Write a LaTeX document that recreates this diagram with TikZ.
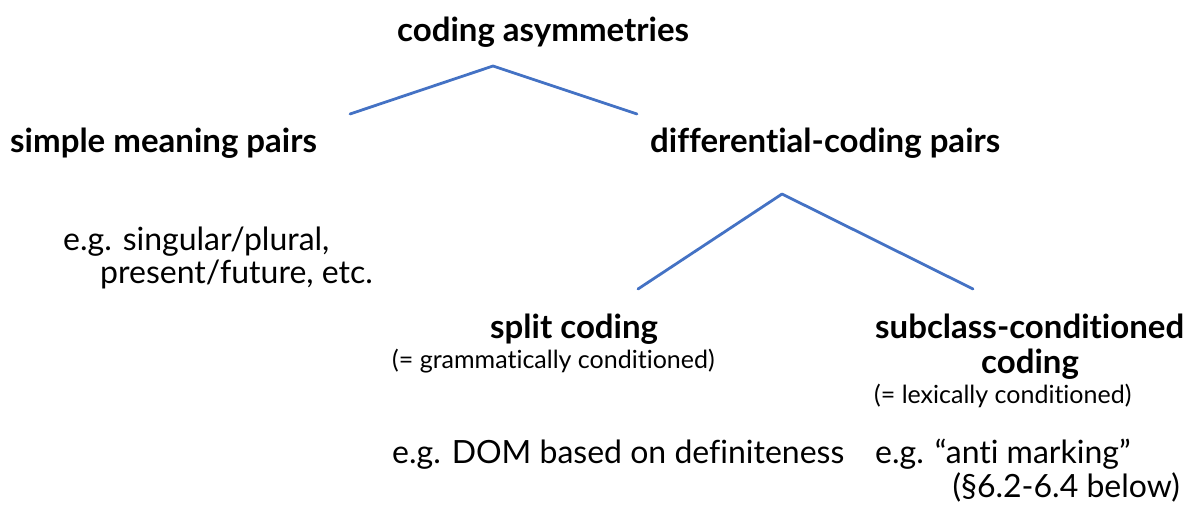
\documentclass[tikz,border=0pt]{standalone}
\usepackage{fontspec}
\setmainfont{Lato}[Ligatures={TeX,NoCommon}]
\definecolor{treeblue}{RGB}{68,114,196}
\tikzset{
  head/.style={inner sep=0pt, font=\fontsize{33}{38}\selectfont\bfseries},
  gloss/.style={inner sep=0pt, font=\fontsize{32}{38}\selectfont},
  note/.style={inner sep=0pt, font=\fontsize{25}{30}\selectfont},
  branch/.style={treeblue, line width=2.8pt, line cap=round, line join=round}
}
\begin{document}
\begin{tikzpicture}[x=1pt, y=-1pt]
	\useasboundingbox (0,0) rectangle (1185,522);
	% top level
	\node[head, anchor=base west] (asym) at (397,41) {coding asymmetries};
	\node[head, anchor=base west] (simple) at (10,152) {simple meaning pairs};
	\node[head, anchor=base west] (diff) at (650,152) {differential-coding pairs};
	\node[gloss, anchor=base west] (sgpl) at (63,250) {e.g. singular/plural,};
	\node[gloss, anchor=base west] (presfut) at (100,283) {present/future, etc.};
	% second level
	\node[head, anchor=base west] (split) at (490,338) {split coding};
	\node[note, anchor=base west] (gram) at (392,368) {(= grammatically conditioned)};
	\node[head, anchor=base west] (subcl) at (875,338) {subclass-conditioned};
	\node[head, anchor=base] (subcl2) at (1030,373) {coding};
	\node[note, anchor=base west] (lex) at (874,403) {(= lexically conditioned)};
	\node[gloss, anchor=base west] (dom) at (392,463) {e.g. DOM based on definiteness};
	\node[gloss, anchor=base west] (anti) at (875,463) {e.g. “anti marking”};
	\node[gloss, anchor=base east] (sect) at (1180,497) {(\S6.2-6.4 below)};
	% branches
	\coordinate (topfork) at (493,66);
	\coordinate (simpleend) at (350,114);
	\coordinate (diffend) at (637,114);
	\coordinate (difffork) at (782,194);
	\coordinate (splitend) at (638,289);
	\coordinate (subclend) at (973,289);
	\draw[branch] (simpleend) -- (topfork) -- (diffend);
	\draw[branch] (splitend) -- (difffork) -- (subclend);
\end{tikzpicture}
\end{document}
